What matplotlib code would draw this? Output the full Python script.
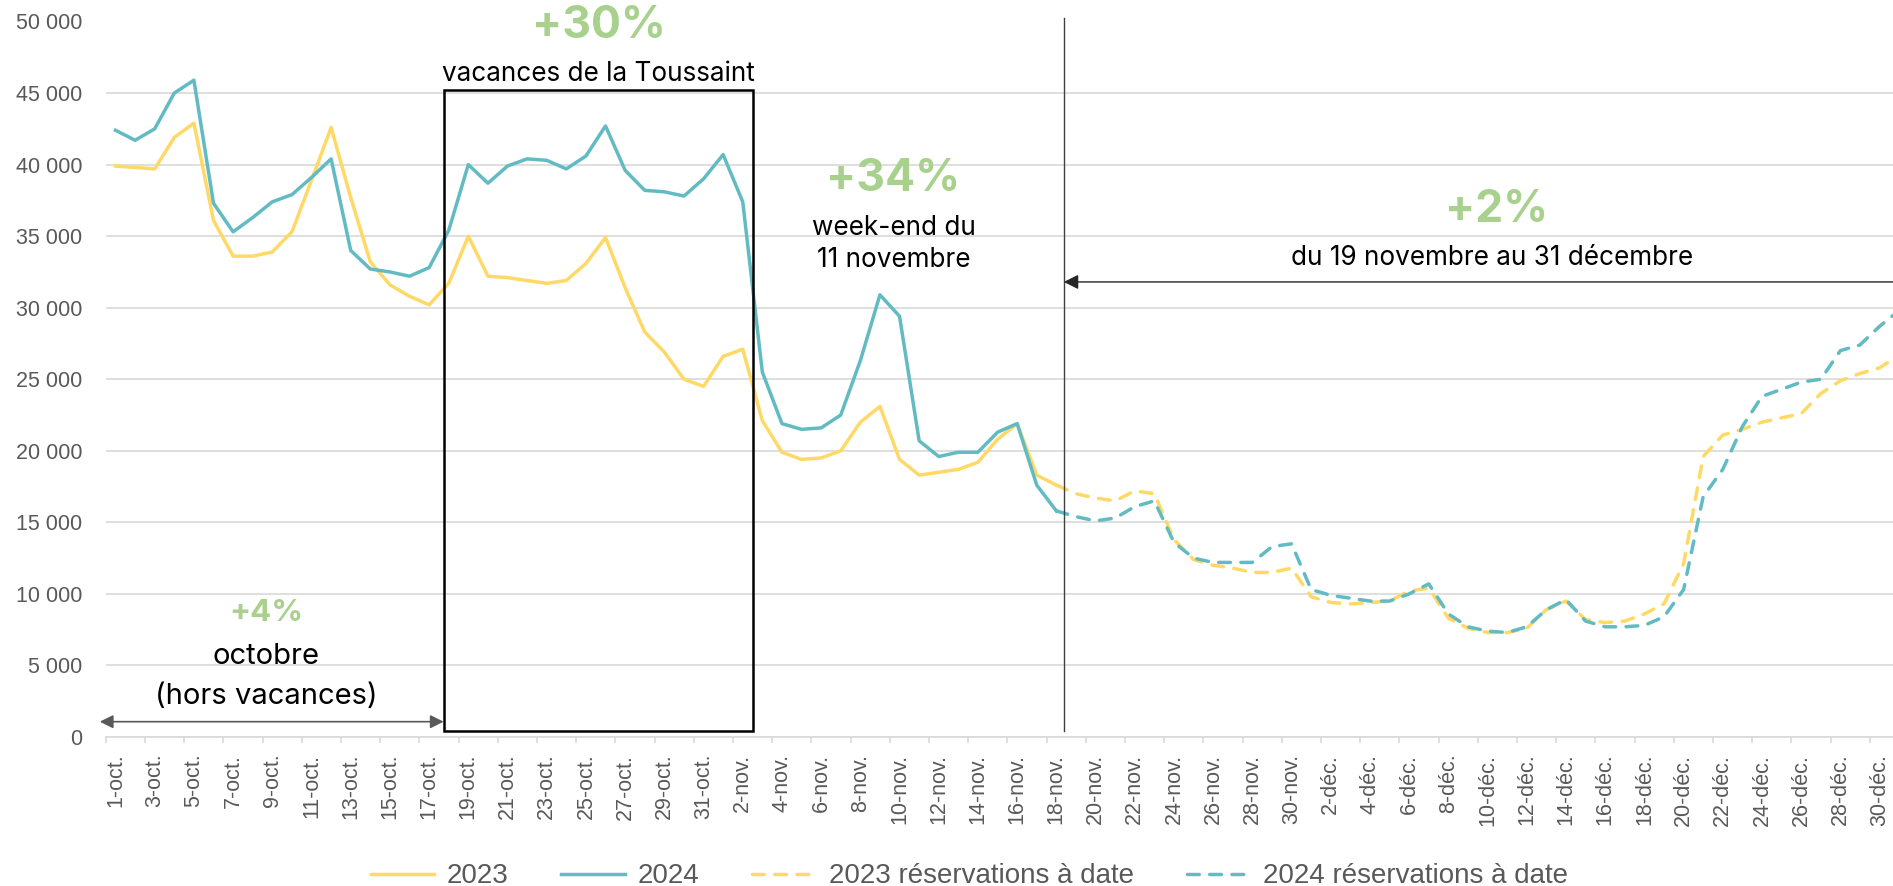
import matplotlib
matplotlib.use("Agg")
import matplotlib.pyplot as plt
from matplotlib.patches import Rectangle
import numpy as np

# ---- categories (1 Oct .. 31 Dec) ----
months = [("oct.", 31), ("nov.", 30), ("déc.", 31)]
days = [f"{d}-{m}" for m, n in months for d in range(1, n + 1)]

# ---- series (solid: 1 Oct .. 18 Nov) ----
v2023 = [39900, 39800, 39700, 41900, 42900, 36100, 33600, 33600, 33900, 35300,
         38900, 42600, 37700, 33200, 31600, 30800, 30200, 31700, 35000, 32200,
         32100, 31900, 31700, 31900, 33100, 34900, 31400, 28300, 26900, 25000,
         24500, 26600, 27100, 22100, 19900, 19400, 19500, 20000, 22000, 23100,
         19400, 18300, 18500, 18700, 19200, 20800, 21900, 18300, 17600]
v2024 = [42400, 41700, 42500, 45000, 45900, 37300, 35300, 36300, 37400, 37900,
         39100, 40400, 34000, 32700, 32500, 32200, 32800, 35400, 40000, 38700,
         39900, 40400, 40300, 39700, 40600, 42700, 39600, 38200, 38100, 37800,
         39000, 40700, 37400, 25500, 21900, 21500, 21600, 22500, 26300, 30900,
         29400, 20700, 19600, 19900, 19900, 21300, 21900, 17600, 15800]
# ---- bookings to date (18 Nov .. 31 Dec) ----
r2023 = [17600, 17000, 16700, 16500, 17200, 17000, 13800, 12400, 12000, 11800,
         11500, 11500, 11800, 9800, 9400, 9300, 9400, 9500, 10200, 10400,
         8300, 7600, 7300, 7300, 7600, 8900, 9500, 8200, 8000, 8100,
         8600, 9300, 12100, 19600, 21100, 21500, 22000, 22300, 22600, 24000,
         24900, 25400, 25800, 26700]
r2024 = [15800, 15400, 15100, 15300, 16100, 16500, 13600, 12500, 12200, 12200,
         12200, 13300, 13500, 10300, 9900, 9700, 9500, 9500, 10000, 10700,
         8600, 7700, 7400, 7300, 7700, 8900, 9600, 8100, 7700, 7700,
         7800, 8400, 10300, 16800, 18700, 21700, 23800, 24300, 24800, 25000,
         27000, 27400, 28700, 29800]

C23 = "#FFD966"
C24 = "#62BBC3"
GRID = "#D9D9D9"
TXT = "#595959"
GREEN = "#A9D18E"
ANN_FONT = ["Inter", "DejaVu Sans"]
TICK_FONT = ["Liberation Sans", "DejaVu Sans"]

fig = plt.figure(figsize=(18.93, 8.86), dpi=100)
ax = fig.add_axes([105.7 / 1893, 1 - 737 / 886, (1909 - 105.7) / 1893, (737 - 21.5) / 886])

x_solid = np.arange(len(v2023))
start = len(v2023) - 1
x_res = np.arange(start, start + len(r2023))

lw = 2.5
ax.plot(x_solid, v2023, color=C23, lw=lw, label="2023", solid_joinstyle="round")
ax.plot(x_solid, v2024, color=C24, lw=lw, label="2024", solid_joinstyle="round")
ax.plot(x_res, r2023, color=C23, lw=lw, ls=(0, (3.4, 3.0)), dash_capstyle="round",
        label="2023 réservations à date")
ax.plot(x_res, r2024, color=C24, lw=lw, ls=(0, (3.4, 3.0)), dash_capstyle="round",
        label="2024 réservations à date")

ax.set_xlim(-0.5, len(days) - 0.5)
ax.set_ylim(0, 50000)

# grid & spines
ax.set_yticks(np.arange(0, 50001, 5000))
ax.set_yticklabels([f"{int(v):,}".replace(",", " ") for v in np.arange(0, 50001, 5000)],
                   fontfamily=TICK_FONT, fontsize=15.5, color=TXT)
ax.yaxis.grid(True, color=GRID, lw=1.2)
ax.set_axisbelow(True)
for s in ["top", "right", "left"]:
    ax.spines[s].set_visible(False)
ax.spines["bottom"].set_color(GRID)
ax.spines["bottom"].set_linewidth(1.2)
ax.tick_params(axis="y", length=0, pad=17)

ax.set_xticks(np.arange(0, len(days), 2))
ax.set_xticklabels(days[::2], rotation=90, fontfamily=TICK_FONT, fontsize=15.5, color=TXT)
ax.set_xticks(np.arange(-0.5, len(days), 2), minor=True)
ax.tick_params(axis="x", which="major", length=0, pad=12)
ax.tick_params(axis="x", which="minor", length=4.5, color=GRID, width=1.2)

# ---- annotations ----
ax.add_patch(Rectangle((16.74, 420), 32.54 - 16.74, 45190 - 420, fill=False,
                       ec="black", lw=1.8, clip_on=False, zorder=5))
ax.plot([48.38, 48.38], [420, 50250], color="#404040", lw=1.0, clip_on=False, zorder=5)
ax.annotate("", xy=(48.38, 31800), xytext=(93, 31800), annotation_clip=False,
            arrowprops=dict(arrowstyle="-|>", color="#262626", lw=1.0,
                            mutation_scale=22, shrinkA=0, shrinkB=0))
ax.annotate("", xy=(-0.8, 1070), xytext=(16.74, 1070), annotation_clip=False,
            arrowprops=dict(arrowstyle="<|-|>", color=TXT, lw=1.2,
                            mutation_scale=20, shrinkA=0, shrinkB=0))

def big(x, y, s, size=32):
    ax.text(x, y, s, ha="center", va="center", fontsize=size, fontweight="bold",
            color=GREEN, fontfamily=ANN_FONT, clip_on=False)

def lab(x, y, s, size=18.8):
    ax.text(x, y, s, ha="center", va="center", fontsize=size, color="black",
            fontfamily=ANN_FONT, clip_on=False)

big(24.65, 49700, "+30%")
lab(24.62, 46300, "vacances de la Toussaint")
big(39.67, 39000, "+34%")
lab(39.72, 35600, "week-end du")
lab(39.72, 33300, "11 novembre")
big(70.48, 36800, "+2%")
lab(70.23, 33500, "du 19 novembre au 31 décembre")
big(7.68, 8700, "+4%", size=22.5)
lab(7.68, 5600, "octobre", size=21)
lab(7.68, 2850, "(hors vacances)", size=21)

leg = fig.legend(loc="center", bbox_to_anchor=(0.512, 0.011), ncol=4, frameon=False,
                 prop={"family": TICK_FONT, "size": 20}, handlelength=2.3,
                 handletextpad=0.45, columnspacing=1.9)
for t in leg.get_texts():
    t.set_color(TXT)

fig.savefig("out.png", dpi=100)
